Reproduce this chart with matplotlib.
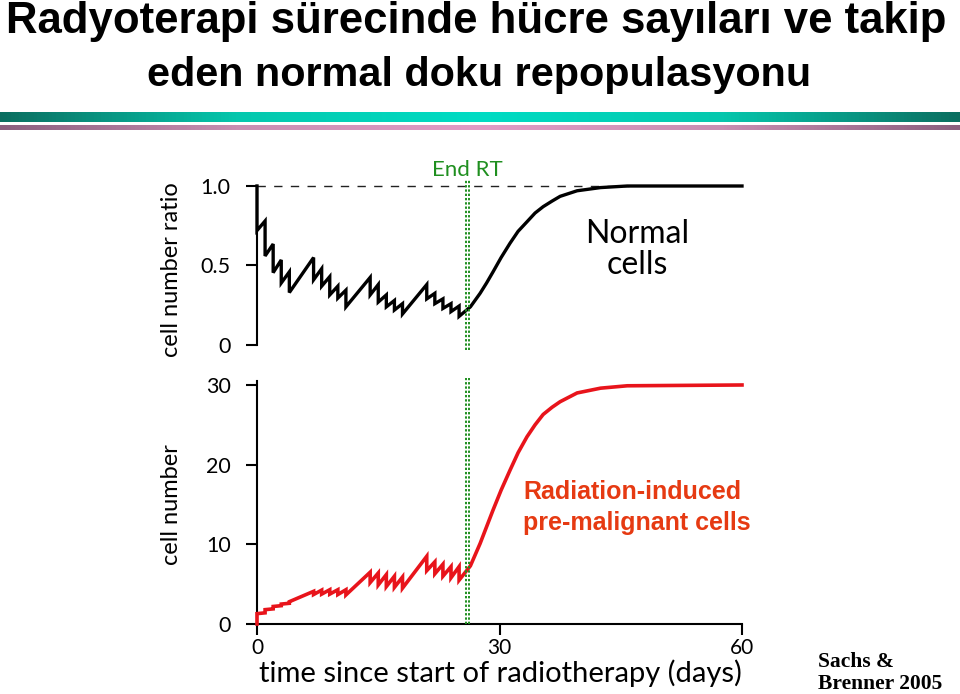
import matplotlib

matplotlib.use("Agg")  # headless
import matplotlib.pyplot as plt
import numpy as np
from matplotlib import font_manager
from matplotlib.colors import LinearSegmentedColormap

# --- data --------------------------------------------------------------
# normal tissue: ratio of cell numbers, sawtooth during RT then regrowth
normal_days = [0, 0, 1, 1, 2, 2, 3, 3, 4, 4,
               7, 7, 8, 8, 9, 9, 10, 10, 11, 11,
               14, 14, 15, 15, 16, 16, 17, 17, 18, 18,
               21, 21, 22, 22, 23, 23, 24, 24, 25, 25,
               26.4, 27.6, 28.4, 29.2, 30.2, 31.3, 32.3, 33.4, 34.4, 35.4,
               36.5, 37.5, 39.6, 42.5, 45.8, 60]
normal_ratio = [1.0, 0.72, 0.78, 0.56, 0.635, 0.455, 0.535, 0.39, 0.46, 0.33,
                0.55, 0.41, 0.48, 0.37, 0.43, 0.315, 0.37, 0.295, 0.345, 0.24,
                0.425, 0.315, 0.38, 0.27, 0.315, 0.24, 0.28, 0.22, 0.26, 0.195,
                0.38, 0.29, 0.325, 0.26, 0.29, 0.23, 0.26, 0.21, 0.245, 0.18,
                0.24, 0.325, 0.39, 0.46, 0.55, 0.64, 0.715, 0.775, 0.83, 0.87,
                0.905, 0.935, 0.97, 0.99, 1.0, 1.0]

# radiation-induced pre-malignant cells
premal_days = [0, 0, 1, 1, 2, 2, 3, 3, 4, 4,
               7, 7, 8, 8, 9, 9, 10, 10, 11, 11,
               14, 14, 15, 15, 16, 16, 17, 17, 18, 18,
               21, 21, 22, 22, 23, 23, 24, 24, 25, 25,
               26.4, 27.6, 28.4, 29.2, 30.2, 31.3, 32.3, 33.4, 34.4, 35.4,
               36.5, 37.5, 39.6, 42.5, 45.8, 60]
premal_count = [0, 1.3, 1.4, 1.8, 1.9, 2.2, 2.3, 2.5, 2.6, 2.8,
                4.1, 3.7, 4.25, 3.75, 4.3, 3.75, 4.3, 3.7, 4.3, 3.65,
                6.5, 5.2, 6.4, 4.9, 6.2, 4.7, 6.0, 4.6, 5.9, 4.5,
                8.5, 6.7, 7.8, 6.3, 7.5, 6.0, 7.2, 5.8, 7.2, 5.5,
                7.3, 10.1, 12.2, 14.3, 16.8, 19.3, 21.5, 23.5, 25.0, 26.3,
                27.2, 27.9, 29.0, 29.6, 29.9, 30.0]

end_rt_day = 26
x_ticks = [0, 30, 60]
top_yticks = [0, 0.5, 1.0]
top_yticklabels = ["0", "0.5", "1.0"]
bottom_yticks = [0, 10, 20, 30]

# --- styling ------------------------------------------------------------
W, H = 960, 694
_BLACK_LINE = "#000000"
_RED_LINE = "#e8141b"
_RED_TEXT = "#e63a12"
_GREEN = "#1f8f1f"
_TICK_FONT = "Lato"

# condensed face for the red annotation if the narrow Liberation cut exists
_installed = {f.name for f in font_manager.fontManager.ttflist}
_NARROW = ("Liberation Sans Narrow" if "Liberation Sans Narrow" in _installed
           else "Liberation Sans")
_RED_SIZE = 22 if _NARROW == "Liberation Sans Narrow" else 18


def fx(px):
    return px / W


def fy(py):
    return 1 - py / H


fig = plt.figure(figsize=(W / 100, H / 100), dpi=100)
fig.patch.set_facecolor("white")

# title
title_kw = dict(ha="center", va="baseline", fontweight="bold",
                family="Liberation Sans")
fig.text(fx(476), fy(33), "Radyoterapi sürecinde hücre sayıları ve takip",
         fontsize=31.5, **title_kw)
fig.text(fx(479), fy(86), "eden normal doku repopulasyonu",
         fontsize=29.8, **title_kw)

# gradient separator bars
teal = LinearSegmentedColormap.from_list("teal", ["#0b6e60", "#05c8ae", "#00dcc4",
                                                   "#05c8ae", "#0b6e60"])
pink = LinearSegmentedColormap.from_list("pink", ["#8c5f7f", "#c98fb3", "#e29bc6",
                                                   "#c98fb3", "#8c5f7f"])
grad = np.linspace(0, 1, 256).reshape(1, -1)
for cmap, top, bot in [(teal, 112, 122), (pink, 125, 130)]:
    bar_ax = fig.add_axes([0, fy(bot), 1, (bot - top) / H])
    bar_ax.imshow(grad, aspect="auto", cmap=cmap)
    bar_ax.set_axis_off()

# --- top panel: normal cells --------------------------------------------
ax_top = fig.add_axes([fx(257), fy(345), 485 / W, (345 - 186) / H])
ax_top.plot(normal_days, normal_ratio, color=_BLACK_LINE, lw=2.4,
            solid_joinstyle="miter", clip_on=False, zorder=3)
ax_top.plot([0, 46], [1, 1], color="#222222", lw=1.0, ls=(0, (6, 6)),
            clip_on=False)
ax_top.set_xlim(0, 60)
ax_top.set_ylim(0, 1)
ax_top.set_yticks(top_yticks)
ax_top.set_yticklabels(top_yticklabels)
ax_top.set_xticks([])
for side in ("top", "right", "bottom"):
    ax_top.spines[side].set_visible(False)
ax_top.spines["left"].set_linewidth(1.5)
ax_top.tick_params(axis="y", direction="out", length=8, width=1.5, pad=11,
                   labelsize=15.5)
ax_top.text(47, 0.6, "Normal\ncells", ha="center", va="center",
            fontsize=23, family=_TICK_FONT, linespacing=1.05)

# --- bottom panel: pre-malignant cells ----------------------------------
ax_bot = fig.add_axes([fx(257), fy(624), 485 / W, (624 - 381) / H])
ax_bot.plot(premal_days, premal_count, color=_RED_LINE, lw=2.6,
            solid_joinstyle="miter", clip_on=False, zorder=3)
ax_bot.set_xlim(0, 60)
ax_bot.set_ylim(0, 30.5)
ax_bot.set_xticks(x_ticks)
ax_bot.set_yticks(bottom_yticks)
for side in ("top", "right"):
    ax_bot.spines[side].set_visible(False)
for side in ("left", "bottom"):
    ax_bot.spines[side].set_linewidth(1.5)
ax_bot.tick_params(axis="y", direction="out", length=8, width=1.5, pad=11,
                   labelsize=15.5)
ax_bot.tick_params(axis="x", direction="out", length=8, width=1.5, pad=2,
                   labelsize=15)
ax_bot.text(32.9, 14.6, "Radiation-induced\npre-malignant cells", ha="left",
            va="center", fontsize=_RED_SIZE, fontweight="bold", color=_RED_TEXT,
            family=_NARROW, linespacing=1.35)

for ax in (ax_top, ax_bot):
    for lab in ax.get_xticklabels() + ax.get_yticklabels():
        lab.set_family(_TICK_FONT)

# End RT marker: double dotted green line
dot = (0, (1.2, 1.0))
for off in (-0.2, 0.2):
    ax_top.axvline(end_rt_day + off, ymin=-0.03, ymax=1.04, color=_GREEN,
                   lw=1.4, ls=dot, clip_on=False, zorder=4)
    ax_bot.axvline(end_rt_day + off, ymin=0, ymax=1.012, color=_GREEN,
                   lw=1.4, ls=dot, clip_on=False, zorder=4)
fig.text(fx(467), fy(170), "End RT", ha="center", va="center", fontsize=16,
         color=_GREEN, family=_TICK_FONT)

# axis labels
fig.text(fx(172), fy(270), "cell number ratio", rotation=90, ha="center",
         va="center", fontsize=17, family=_TICK_FONT)
fig.text(fx(172), fy(505), "cell number", rotation=90, ha="center",
         va="center", fontsize=17, family=_TICK_FONT)
fig.text(fx(500), fy(682), "time since start of radiotherapy (days)",
         ha="center", va="baseline", fontsize=21, family=_TICK_FONT)

fig.text(fx(818), fy(673), "Sachs &\nBrenner 2005", ha="left", va="center",
         fontsize=15.5, fontweight="bold", family="Liberation Serif",
         linespacing=1.15)

fig.savefig("out.png", dpi=100, facecolor=fig.get_facecolor())
plt.close(fig)
